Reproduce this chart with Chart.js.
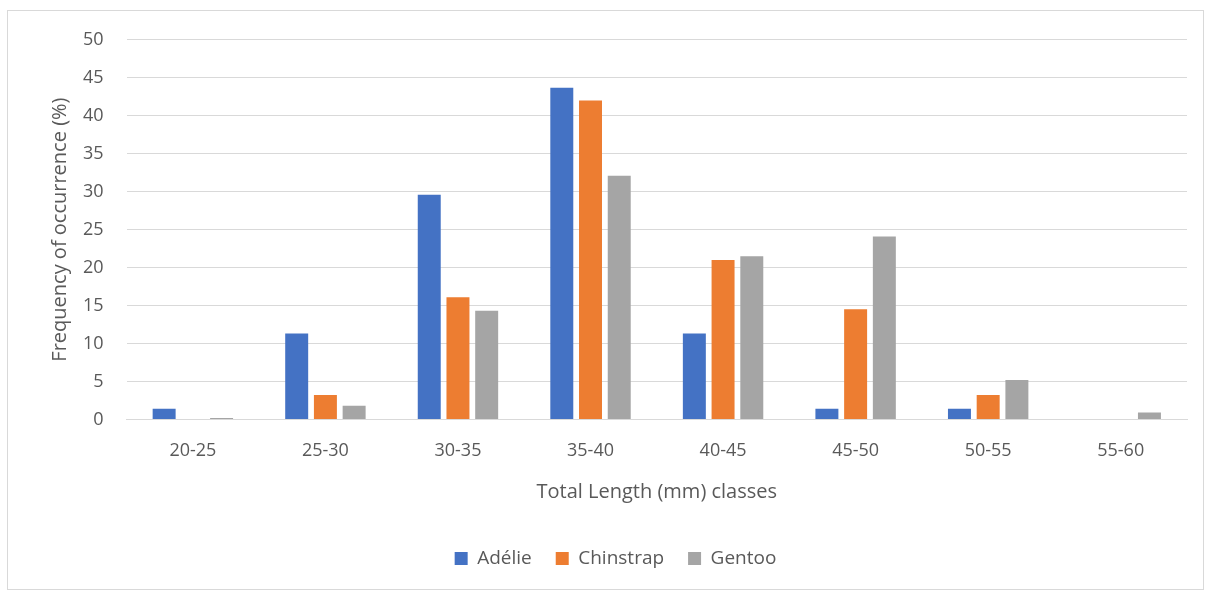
<!DOCTYPE html>
<html>
<head>
<meta charset="utf-8">
<script src="https://cdn.jsdelivr.net/npm/chart.js@4"></script>
<style>
  html, body { margin: 0; padding: 0; background: #fff; }
  #box { position: absolute; left: 7px; top: 10px; width: 1197px; height: 580px; border: 1px solid #d9d9d9; box-sizing: border-box; }
  #chart { position: absolute; left: 7px; top: 6px; display: block; }
</style>
</head>
<body>
<div id="box"></div>
<canvas id="chart" width="1197" height="584"></canvas>
<script>
const classes = ["20-25", "25-30", "30-35", "35-40", "40-45", "45-50", "50-55", "55-60"];
const adelie = [1.4, 11.3, 29.6, 43.7, 11.3, 1.4, 1.4, 0];
const chinstrap = [0, 3.2, 16.1, 42.0, 21.0, 14.5, 3.2, 0];
const gentoo = [0.2, 1.8, 14.3, 32.1, 21.5, 24.1, 5.2, 0.9];

const txt = '#595959';
const fontFam = "'Open Sans', 'Liberation Sans', sans-serif";

const ctx = document.getElementById('chart');
new Chart(ctx, {
  type: 'bar',
  data: {
    labels: classes,
    datasets: [
      { label: 'Adélie', data: adelie, backgroundColor: '#4472c4' },
      { label: 'Chinstrap', data: chinstrap, backgroundColor: '#ed7d31' },
      { label: 'Gentoo', data: gentoo, backgroundColor: '#a5a5a5' }
    ]
  },
  options: {
    responsive: false,
    animation: false,
    datasets: { bar: { categoryPercentage: 0.65, barPercentage: 0.8 } },
    layout: { padding: { left: 37, right: 17, top: 12, bottom: 12 } },
    plugins: {
      legend: {
        position: 'bottom',
        labels: { boxWidth: 13, boxHeight: 13, color: txt, font: { family: fontFam, size: 19 }, padding: 24 }
      },
      tooltip: { enabled: false }
    },
    scales: {
      x: {
        grid: { display: false },
        border: { color: '#d9d9d9' },
        ticks: { color: txt, font: { family: fontFam, size: 18 }, padding: 13 },
        title: { display: true, text: 'Total Length (mm) classes', color: txt, font: { family: fontFam, size: 20 }, padding: { top: 5, bottom: 21 } }
      },
      y: {
        min: 0, max: 50,
        grid: { color: '#d9d9d9', drawTicks: false },
        border: { display: false },
        ticks: { stepSize: 5, color: txt, font: { family: fontFam, size: 18 }, padding: 23 },
        title: { display: true, text: 'Frequency of occurrence (%)', color: txt, font: { family: fontFam, size: 20 }, padding: { top: 4, bottom: -12 } }
      }
    }
  }
});
</script>
</body>
</html>
